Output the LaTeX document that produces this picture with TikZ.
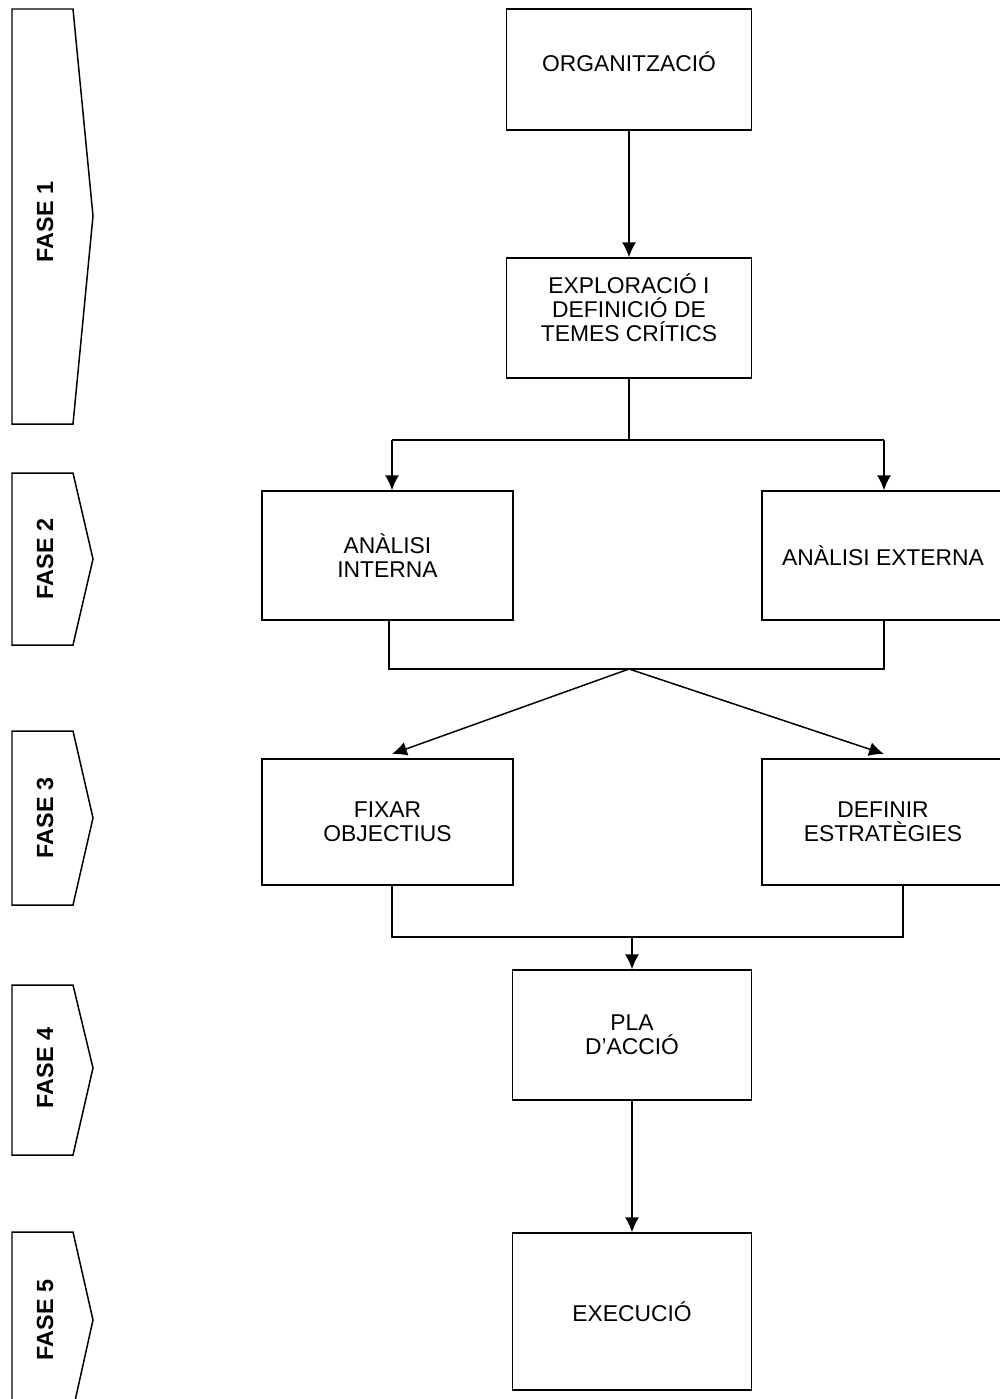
\documentclass[tikz,border=0pt]{standalone}
\usepackage{fontspec}
\setmainfont{Liberation Sans}
\usepackage{tikz}
\usetikzlibrary{arrows.meta}

\begin{document}
\begin{tikzpicture}
        [
            x = 0.02cm, y = -0.02cm,
            > = {Latex[length=8.5pt, width=8pt]},
            line width = 0.85pt,
            box/.style = {rectangle, draw=black, line width=0.85pt, align=center,
                font=\fontsize{13}{13.8}\selectfont, inner sep=2pt},
            midbox/.style = {box, minimum width=4.9cm, minimum height=2.42cm},
            sidebox/.style = {box, minimum width=5.02cm, minimum height=2.58cm},
            fase/.style = {rotate=90, font=\fontsize{13.3}{14}\selectfont\bfseries}
        ]
        \useasboundingbox (0, 0) rectangle (1000, 1399);

        % phases on the left
        \draw (12, 9) -- (73, 9) -- (93, 216) -- (73, 424) -- (12, 424) -- cycle;
        \node [fase] at (45, 222) (fase1) {FASE 1};
        \draw (12, 473) -- (73, 473) -- (93, 559) -- (73, 645) -- (12, 645) -- cycle;
        \node [fase] at (45, 559) (fase2) {FASE 2};
        \draw (12, 731) -- (73, 731) -- (93, 818) -- (73, 905) -- (12, 905) -- cycle;
        \node [fase] at (45, 818) (fase3) {FASE 3};
        \draw (12, 985) -- (73, 985) -- (93, 1068) -- (73, 1155) -- (12, 1155) -- cycle;
        \node [fase] at (45, 1068) (fase4) {FASE 4};
        \draw (12, 1232) -- (73, 1232) -- (93, 1320) -- (73, 1410) -- (12, 1410) -- cycle;
        \node [fase] at (45, 1320) (fase5) {FASE 5};

        % boxes
        \node [midbox] at (629, 69.5) (org) {ORGANITZACIÓ\\[-4.8pt]};
        \node [midbox, minimum height=2.4cm] at (629, 318) (explo) {EXPLORACIÓ I\\DEFINICIÓ DE\\TEMES CRÍTICS\\[-2pt]};
        \node [sidebox] at (387.5, 555.5) (intern) {ANÀLISI\\INTERNA};
        \node [sidebox, minimum width=4.84cm] at (883, 555.5) (extern) {ANÀLISI EXTERNA};
        \node [sidebox, minimum height=2.52cm] at (387.5, 822) (fixar) {FIXAR\\OBJECTIUS};
        \node [sidebox, minimum width=4.84cm, minimum height=2.52cm] at (883, 822) (definir) {DEFINIR\\ESTRATÈGIES};
        \node [midbox, minimum width=4.78cm, minimum height=2.6cm] at (632, 1035) (pla) {PLA\\D’ACCIÓ};
        \node [midbox, minimum width=4.78cm, minimum height=3.14cm] at (632, 1311.5) (exec) {EXECUCIÓ};

        % junctions
        \coordinate (split1) at (629, 440);
        \coordinate (split1l) at (392, 440);
        \coordinate (split1r) at (884, 440);
        \coordinate (join2l) at (389, 669);
        \coordinate (join2r) at (884, 669);
        \coordinate (join2) at (629, 669);
        \coordinate (fixarin) at (392, 754);
        \coordinate (definirin) at (884, 754);
        \coordinate (join3l) at (392, 937);
        \coordinate (join3r) at (903, 937);
        \coordinate (join3) at (632, 937);

        \draw[->] (org.south) -- (explo.north);
        \draw (explo.south) -- (split1);
        \draw (split1l) -- (split1r);
        \draw[->] (split1l) -- (split1l |- intern.north);
        \draw[->] (split1r) -- (split1r |- extern.north);
        \draw (intern.south -| join2l) -- (join2l) -- (join2r) -- (extern.south -| join2r);
        \draw[->] (join2) -- (fixarin);
        \draw[->] (join2) -- (definirin);
        \draw (fixar.south -| join3l) -- (join3l) -- (join3r) -- (definir.south -| join3r);
        \draw[->] (join3) -- (pla.north);
        \draw[->] (pla.south) -- (exec.north);
    \end{tikzpicture}
\end{document}
